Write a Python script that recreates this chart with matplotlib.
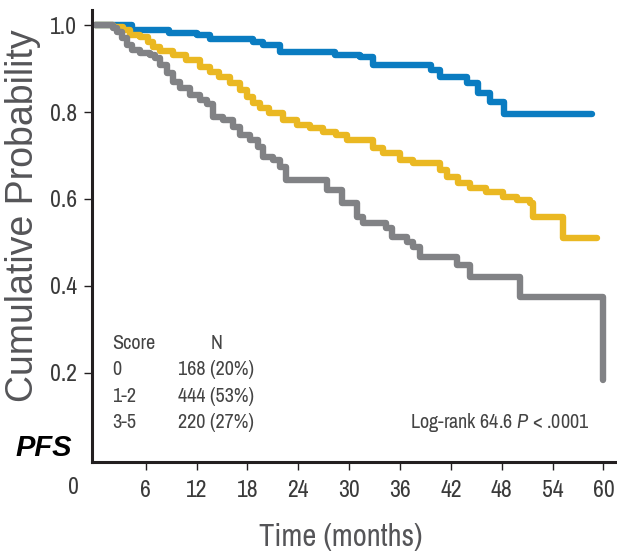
import matplotlib
matplotlib.use("Agg")
import matplotlib.pyplot as plt

narrow = ['Archivo Narrow', 'DejaVu Sans']
plt.rcParams['font.family'] = narrow
plt.rcParams['mathtext.fontset'] = 'custom'
plt.rcParams['mathtext.rm'] = 'Archivo Narrow'
plt.rcParams['mathtext.it'] = 'Archivo Narrow:italic'

# Kaplan-Meier step data (months, cumulative probability)
t_score0 = [0, 4.4, 8.8, 12.1, 13.6, 18.6, 19.8, 21.8, 28.3, 31.3, 32.8, 39.7,
            40.7, 43.9, 45.2, 46.6, 48.3, 58.7]
s_score0 = [1.0, 0.988, 0.982, 0.977, 0.968, 0.961, 0.954, 0.938, 0.931, 0.926,
            0.908, 0.896, 0.880, 0.866, 0.843, 0.823, 0.795, 0.795]

t_score12 = [0, 2.1, 3.3, 4.1, 5.3, 6.3, 6.8, 7.7, 9.2, 10.8, 12.4, 13.6, 14.7,
             15.9, 17.1, 17.9, 18.6, 19.5, 20.6, 22.2, 23.8, 25.4, 26.9, 28.5,
             29.7, 32.8, 34.0, 36.0, 37.5, 40.7, 41.5, 42.8, 44.2, 46.2, 48.1,
             49.8, 51.3, 51.7, 55.2, 59.2]
s_score12 = [1.0, 0.995, 0.988, 0.977, 0.972, 0.961, 0.949, 0.940, 0.931, 0.919,
             0.903, 0.892, 0.880, 0.866, 0.850, 0.834, 0.820, 0.809, 0.797, 0.781,
             0.770, 0.763, 0.754, 0.747, 0.735, 0.717, 0.705, 0.689, 0.682, 0.666,
             0.650, 0.636, 0.625, 0.615, 0.604, 0.597, 0.590, 0.558, 0.510, 0.510]

t_score35 = [0, 2.1, 2.6, 3.2, 3.8, 4.4, 5.3, 6.5, 7.1, 7.7, 8.5, 9.2, 10.0,
             11.2, 12.4, 13.2, 13.9, 15.1, 16.3, 17.1, 18.3, 19.2, 19.8, 21.0,
             21.8, 22.6, 27.4, 29.2, 30.9, 31.6, 34.4, 35.1, 36.8, 37.5, 38.3,
             42.7, 44.2, 50.1, 59.9]
s_score35 = [1.0, 0.993, 0.984, 0.970, 0.954, 0.942, 0.936, 0.931, 0.924, 0.908,
             0.889, 0.869, 0.855, 0.839, 0.828, 0.818, 0.788, 0.781, 0.765, 0.747,
             0.736, 0.720, 0.697, 0.689, 0.673, 0.643, 0.620, 0.590, 0.558, 0.544,
             0.533, 0.512, 0.501, 0.489, 0.466, 0.448, 0.420, 0.374, 0.183]

xticks = [6, 12, 18, 24, 30, 36, 42, 48, 54, 60]
yticks = [0.2, 0.4, 0.6, 0.8, 1.0]

scores = ['0', '1-2', '3-5']
counts = ['168 (20%)', '444 (53%)', '220 (27%)']

fig = plt.figure(figsize=(6.17, 5.56), dpi=100)
ax = fig.add_axes([0.149, 0.169, 0.851, 0.813])

ax.step(t_score0, s_score0, where='post', color='#0A7CC1', lw=4.6, solid_capstyle='round')
ax.step(t_score12, s_score12, where='post', color='#EAB822', lw=4.6, solid_capstyle='round')
ax.step(t_score35, s_score35, where='post', color='#818285', lw=4.6, solid_capstyle='round')

ax.set_xlim(-0.35, 61.6)
ax.set_ylim(-0.006, 1.035)

ax.spines['top'].set_visible(False)
ax.spines['right'].set_visible(False)
for side in ['left', 'bottom']:
    ax.spines[side].set_linewidth(2.2)
    ax.spines[side].set_color('#231F20')

ax.set_xticks(xticks)
ax.set_xticklabels([str(v) for v in xticks])
ax.set_yticks(yticks)
ax.set_yticklabels([f"{v:.1f}" for v in yticks])
ax.tick_params(axis='x', length=6, width=1, pad=7, labelsize=17,
               colors='#231F20', labelcolor='#3a3a3a')
ax.tick_params(axis='y', length=6, width=1, pad=5, labelsize=17,
               colors='#231F20', labelcolor='#3a3a3a')

ax.set_ylabel('Cumulative Probability', fontsize=27, color='#555558',
              family=['Liberation Sans', 'DejaVu Sans'])
ax.yaxis.set_label_coords(-0.097, 0.546)
ax.set_xlabel('Time (months)', fontsize=22, color='#555558')
ax.xaxis.set_label_coords(0.474, -0.135)

# legend table inside the plot
ax.text(2.0, 0.268, 'Score', fontsize=14.5, color='#444444', va='center')
ax.text(14.3, 0.268, 'N', fontsize=14.5, color='#444444', va='center', ha='center')
for i, (sc, n) in enumerate(zip(scores, counts)):
    yy = 0.208 - i * 0.062
    ax.text(2.0, yy, sc, fontsize=14.5, color='#444444', va='center')
    ax.text(9.8, yy, n, fontsize=14.5, color='#444444', va='center')

ax.text(58.4, 0.084, r'Log-rank 64.6 $\mathit{P}$ < .0001', fontsize=14.5,
        color='#444444', va='center', ha='right')

fig.text(15 / 617, 1 - 448 / 556, 'PFS', fontsize=21, fontweight='bold',
         fontstyle='italic', va='center', ha='left', color='black',
         family=['Liberation Sans', 'DejaVu Sans'])
fig.text(73 / 617, 1 - 488 / 556, '0', fontsize=17, color='#3a3a3a',
         va='center', ha='center')

fig.savefig('out.png', dpi=100)
